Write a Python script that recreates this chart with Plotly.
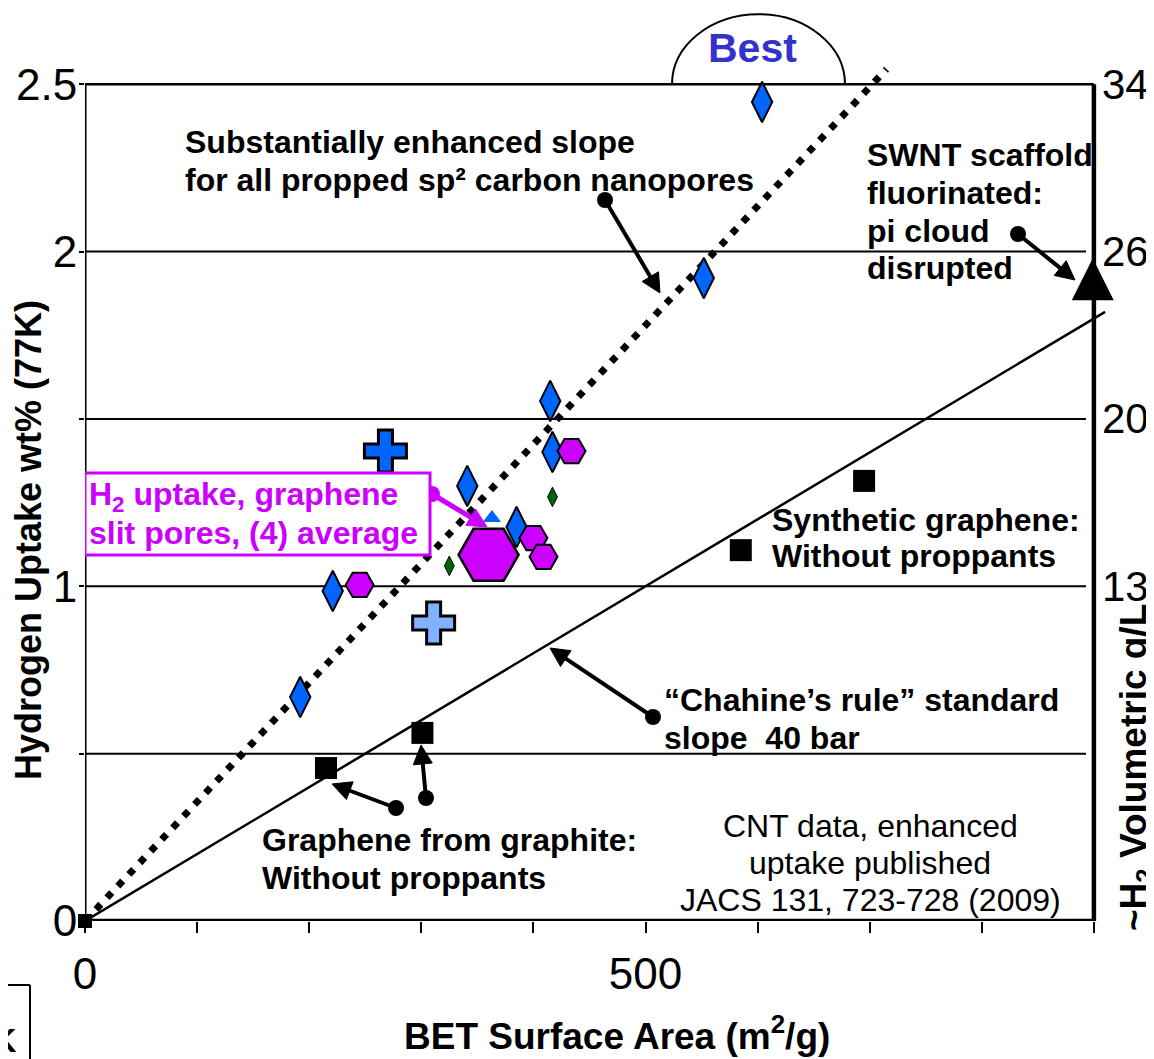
import math
import plotly.graph_objects as go

# ---------------- data ----------------
# CNT data (blue diamonds)
cnt_x = [604, 552, 415, 417, 341, 385, 221, 192]
cnt_y = [2.447, 1.921, 1.554, 1.401, 1.300, 1.177, 0.986, 0.669]
# small blue triangle (partly hidden)
tri_small_x = [363]
tri_small_y = [1.204]
# green small diamonds
green_x = [417, 325]
green_y = [1.267, 1.061]
# graphene slit pores (purple hexagons)
hex_x = [434, 400, 409, 245]
hex_y = [1.404, 1.144, 1.088, 1.004]
# average of graphene slit pores (big hexagon)
hex_avg_x = [360]
hex_avg_y = [1.094]
# blue crosses
cross_x = [268]
cross_y = [1.404]
cross_hatch_x = [311]
cross_hatch_y = [0.890]
# graphene from graphite & synthetic graphene (black squares)
sq_x = [215, 301, 585, 695]
sq_y = [0.457, 0.562, 1.108, 1.315]
origin_x = [0]
origin_y = [0]
# SWNT scaffold fluorinated (black triangle)
swnt_x = [899]
swnt_y = [1.98]
# lines
chahine_x = [0, 910]
chahine_y = [0, 1.82]
enhanced_x = [0, 715]
enhanced_y = [0, 2.545]

x_tickvals = [0, 500]
x_ticktext = ['0', '500']
x_minor_ticks = [100, 200, 300, 400, 600, 700, 800, 900]
y_tickvals = [0, 1, 2, 2.5]
y_ticktext = ['0', '1', '2', '2.5']
y_minor_ticks = [0.5, 1.5]
grid_y = [0.5, 1, 1.5, 2]
right_tickvals = [2.5, 2.0, 1.5, 1.0]
right_ticktext = ['34', '26', '20', '13']

# ---------------- layout geometry ----------------
BODY = 8                 # default page margin around the figure
W, H = 1154 - BODY, 1059 - BODY
X0_SCREEN, Y0_SCREEN = 85, 921   # screen pixel of the (0, 0) corner
ML = X0_SCREEN - BODY
MB = H - (Y0_SCREEN - BODY)
PXX = 1.121      # pixels per m2/g
PXY = 334.7      # pixels per wt%
XMAX = (W - ML) / PXX
YMAX = (H - MB) / PXY


def X(px):
    return (px - X0_SCREEN) / PXX


def Y(py):
    return (Y0_SCREEN - py) / PXY


def PX(px):
    return (px - X0_SCREEN) / (W - ML)


def PY(py):
    return (Y0_SCREEN - py) / (H - MB)


FONT = "Liberation Sans, Arial, sans-serif"
BLUE = "#0066FF"
PURPLE = "#CC00FF"
GREEN = "#006600"

fig = go.Figure()

fig.add_trace(go.Scatter(x=enhanced_x, y=enhanced_y, mode='lines',
                         line=dict(color='black', width=7, dash='7px,9px'),
                         hoverinfo='skip', showlegend=False))
fig.add_trace(go.Scatter(x=chahine_x, y=chahine_y, mode='lines',
                         line=dict(color='black', width=2.5),
                         hoverinfo='skip', showlegend=False))

fig.add_trace(go.Scatter(x=cnt_x, y=cnt_y, mode='markers', cliponaxis=False,
                         marker=dict(symbol='diamond-tall', size=29, color=BLUE,
                                     line=dict(color='black', width=2)),
                         showlegend=False))
fig.add_trace(go.Scatter(x=tri_small_x, y=tri_small_y, mode='markers',
                         marker=dict(symbol='triangle-up', size=16, color=BLUE,
                                     line=dict(width=0)),
                         showlegend=False))
fig.add_trace(go.Scatter(x=green_x, y=green_y, mode='markers',
                         marker=dict(symbol='diamond-tall', size=14, color=GREEN,
                                     line=dict(color='black', width=1)),
                         showlegend=False))
fig.add_trace(go.Scatter(x=cross_x, y=cross_y, mode='markers',
                         marker=dict(symbol='cross', size=35, color=BLUE,
                                     line=dict(color='black', width=3)),
                         showlegend=False))
fig.add_trace(go.Scatter(x=cross_hatch_x, y=cross_hatch_y, mode='markers',
                         marker=dict(symbol='cross', size=35, color='#80B3FF',
                                     line=dict(color='black', width=3)),
                         showlegend=False))
fig.add_trace(go.Scatter(x=hex_x, y=hex_y, mode='markers',
                         marker=dict(symbol='hexagon2', size=28, color=PURPLE,
                                     line=dict(color='black', width=2)),
                         showlegend=False))
fig.add_trace(go.Scatter(x=hex_avg_x, y=hex_avg_y, mode='markers',
                         marker=dict(symbol='hexagon2', size=60, color=PURPLE,
                                     line=dict(color='black', width=2.5)),
                         showlegend=False))
fig.add_trace(go.Scatter(x=sq_x, y=sq_y, mode='markers',
                         marker=dict(symbol='square', size=22, color='black',
                                     line=dict(width=0)),
                         showlegend=False))
fig.add_trace(go.Scatter(x=origin_x, y=origin_y, mode='markers', cliponaxis=False,
                         marker=dict(symbol='square', size=14, color='black',
                                     line=dict(width=0)),
                         showlegend=False))
fig.add_trace(go.Scatter(x=swnt_x, y=swnt_y, mode='markers', cliponaxis=False,
                         marker=dict(symbol='arrow-up', size=42, color='black',
                                     line=dict(width=0)),
                         showlegend=False))

# ---------------- pointer arrows (dot at tail, head at tip) ----------------
# (tail px, head px) in screen pixels
black_arrows = [
    ((605, 200), (660, 293)),
    ((1018, 234), (1075, 280)),
    ((653, 717), (550, 648)),
    ((396, 808), (332, 784)),
    ((426, 798), (421, 745)),
]
purple_arrows = [
    ((432, 494), (487, 527)),
]
HEAD = 19


def arrow_traces(arrs, color, width):
    sx, sy = [], []
    hx_l, hy_l, ang = [], [], []
    tx_l, ty_l = [], []
    for (tx, ty), (hx, hy) in arrs:
        dx, dy = hx - tx, hy - ty
        L = math.hypot(dx, dy)
        ex, ey = hx - dx / L * (HEAD * 0.6), hy - dy / L * (HEAD * 0.6)
        sx += [X(tx), X(ex), None]
        sy += [Y(ty), Y(ey), None]
        hx_l.append(X(hx))
        hy_l.append(Y(hy))
        ang.append(math.degrees(math.atan2(dx, -dy)))
        tx_l.append(X(tx))
        ty_l.append(Y(ty))
    shaft = go.Scatter(x=sx, y=sy, mode='lines', cliponaxis=False,
                       line=dict(color=color, width=width),
                       hoverinfo='skip', showlegend=False)
    heads = go.Scatter(x=hx_l, y=hy_l, mode='markers', cliponaxis=False,
                       marker=dict(symbol='arrow-up', size=HEAD, color=color, opacity=1,
                                   angle=ang, line=dict(width=1, color=color)),
                       hoverinfo='skip', showlegend=False)
    dots = go.Scatter(x=tx_l, y=ty_l, mode='markers', cliponaxis=False,
                      marker=dict(symbol='circle', size=16, color=color,
                                  line=dict(width=0)),
                      hoverinfo='skip', showlegend=False)
    return [shaft, heads, dots]


for tr in arrow_traces(black_arrows, 'black', 4):
    fig.add_trace(tr)
for tr in arrow_traces(purple_arrows, PURPLE, 5):
    fig.add_trace(tr)

# ---------------- shapes ----------------
shapes = []
for gy in grid_y:
    shapes.append(dict(type='line', xref='x', yref='y', x0=0, x1=X(1086), y0=gy, y1=gy,
                       line=dict(color='black', width=2), layer='below'))
# frame
shapes.append(dict(type='line', xref='x', yref='y', x0=0, x1=900, y0=2.5, y1=2.5,
                   line=dict(color='black', width=2.5), layer='below'))
shapes.append(dict(type='line', xref='x', yref='y', x0=900, x1=900, y0=0, y1=2.5,
                   line=dict(color='black', width=4.5), layer='below'))
shapes.append(dict(type='line', xref='x', yref='y', x0=0, x1=0, y0=0, y1=2.5,
                   line=dict(color='black', width=3), layer='below'))
shapes.append(dict(type='line', xref='x', yref='y', x0=0, x1=900, y0=0, y1=0,
                   line=dict(color='black', width=4.5), layer='below'))
# "Best" half ellipse
cx, cy, rx, ry, k = X(758.5), 2.5, 86.5 / PXX, 70 / PXY, 0.5523
arc = (f"M{cx - rx},{cy} C{cx - rx},{cy + k * ry} {cx - k * rx},{cy + ry} {cx},{cy + ry} "
       f"C{cx + k * rx},{cy + ry} {cx + rx},{cy + k * ry} {cx + rx},{cy}")
shapes.append(dict(type='path', xref='x', yref='y', path=arc,
                   line=dict(color='black', width=2), layer='below'))
# magenta box
shapes.append(dict(type='rect', xref='x', yref='y', x0=0, x1=X(430), y0=Y(555), y1=Y(473),
                   line=dict(color=PURPLE, width=3), fillcolor='white', layer='above'))
# partial box at bottom-left corner
shapes.append(dict(type='line', xref='paper', yref='paper', x0=PX(0), x1=PX(30),
                   y0=PY(985), y1=PY(985), line=dict(color='black', width=2)))
shapes.append(dict(type='line', xref='paper', yref='paper', x0=PX(30), x1=PX(30),
                   y0=PY(985), y1=PY(1062), line=dict(color='black', width=2)))

annotations = []

# text lines: (left px, center py, text, color)
BOLD_LINES = [
    (183, 142, "Substantially enhanced slope", 'black'),
    (183, 180, "for all propped sp² carbon nanopores", 'black'),
    (865, 155, "SWNT scaffold", 'black'),
    (865, 193, "fluorinated:", 'black'),
    (865, 231, "pi cloud", 'black'),
    (865, 268, "disrupted", 'black'),
    (770, 520, "Synthetic graphene:", 'black'),
    (770, 556, "Without proppants", 'black'),
    (662, 700, "“Chahine’s rule” standard", 'black'),
    (662, 738, "slope  40 bar", 'black'),
    (260, 840, "Graphene from graphite:", 'black'),
    (260, 878, "Without proppants", 'black'),
    (87, 496, "H<sub>2</sub> uptake, graphene", PURPLE),
    (87, 533, "slit pores, (4) average", PURPLE),
]
for lx, ly, txt, col in BOLD_LINES:
    annotations.append(dict(x=X(lx), y=Y(ly), xref='x', yref='y', text=f"<b>{txt}</b>",
                            showarrow=False, xanchor='left', yanchor='middle',
                            font=dict(family=FONT, size=32, color=col)))

for ly, txt in [(826, "CNT data, enhanced"), (863, "uptake published"),
                (900, "JACS 131, 723-728 (2009)")]:
    annotations.append(dict(x=X(870), y=Y(ly), xref='x', yref='y', text=txt,
                            showarrow=False, xanchor='center', yanchor='middle',
                            font=dict(family=FONT, size=32, color='black')))

annotations.append(dict(x=X(752), y=Y(48), xref='x', yref='y', text="<b>Best</b>",
                        showarrow=False, xanchor='center', yanchor='middle',
                        font=dict(family=FONT, size=41, color='#3333CC')))

# right-hand axis labels
for v, t in zip(right_tickvals, right_ticktext):
    annotations.append(dict(x=X(1100), y=v, xref='x', yref='y', text=t, showarrow=False,
                            xanchor='left', yanchor='middle',
                            font=dict(family=FONT, size=42, color='black')))

# axis titles
annotations.append(dict(x=PX(28), y=PY(540), xref='paper', yref='paper',
                        text="<b>Hydrogen Uptake wt% (77K)</b>", textangle=-90,
                        showarrow=False, xanchor='center', yanchor='middle',
                        font=dict(family=FONT, size=36, color='black')))
annotations.append(dict(x=PX(617), y=PY(1033), xref='paper', yref='paper',
                        text="<b>BET Surface Area (m<sup>2</sup>/g)</b>",
                        showarrow=False, xanchor='center', yanchor='middle',
                        font=dict(family=FONT, size=37, color='black')))
annotations.append(dict(x=PX(1136), y=PY(768), xref='paper', yref='paper',
                        text="<b>~H<sub>2</sub> Volumetric g/L</b>", textangle=-90,
                        showarrow=False, xanchor='center', yanchor='middle',
                        font=dict(family=FONT, size=37, color='black')))
annotations.append(dict(x=PX(19), y=PY(1040), xref='paper', yref='paper',
                        text="<b>K</b>", showarrow=False, xanchor='right',
                        yanchor='middle', font=dict(family=FONT, size=34, color='black')))

fig.update_layout(
    width=W, height=H,
    margin=dict(l=ML, r=0, t=0, b=MB, pad=0),
    paper_bgcolor='white', plot_bgcolor='white',
    showlegend=False,
    shapes=shapes, annotations=annotations,
    xaxis=dict(range=[0, XMAX], showgrid=False, zeroline=False, showline=False,
               tickmode='array', tickvals=x_tickvals, ticktext=x_ticktext,
               ticks='outside', ticklen=11, tickwidth=2, tickcolor='black',
               minor=dict(tickmode='array', tickvals=x_minor_ticks, ticks='outside',
                          ticklen=11, tickwidth=2, tickcolor='black', showgrid=False),
               ticklabelstandoff=3, automargin=False,
               tickfont=dict(family=FONT, size=44, color='black')),
    yaxis=dict(range=[0, YMAX], showgrid=False, zeroline=False, showline=False,
               tickmode='array', tickvals=y_tickvals, ticktext=y_ticktext,
               ticks='outside', ticklen=5, tickwidth=2, tickcolor='black',
               minor=dict(tickmode='array', tickvals=y_minor_ticks, ticks='outside',
                          ticklen=5, tickwidth=2, tickcolor='black', showgrid=False),
               ticklabelstandoff=-7, automargin=False,
               tickfont=dict(family=FONT, size=44, color='black')),
)

fig.write_html("out.html")
